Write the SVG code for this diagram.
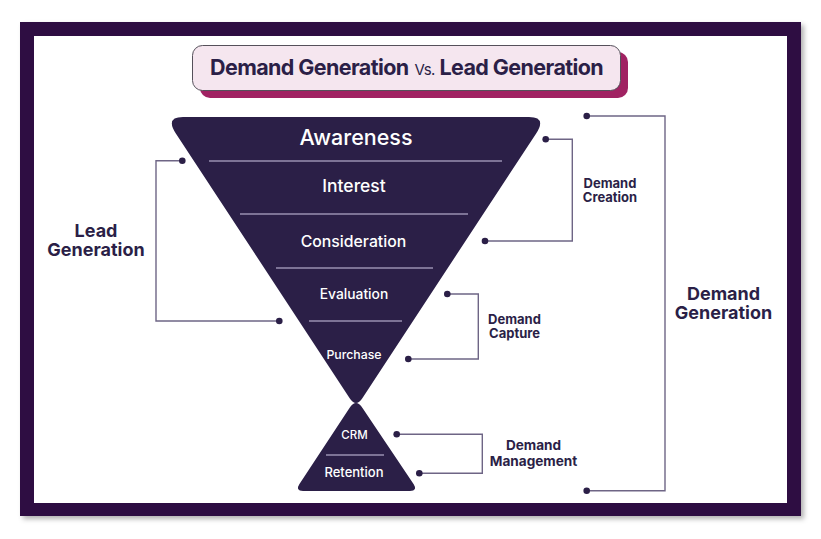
<svg xmlns="http://www.w3.org/2000/svg" width="821" height="539" viewBox="0 0 821 539">
  <defs>
    <filter id="shadow" x="-5%" y="-5%" width="115%" height="115%">
      <feDropShadow dx="3" dy="3" stdDeviation="2.5" flood-color="#000" flood-opacity="0.3"/>
    </filter>
    <style>
      .funnel { fill: #2b1f47; }
      .divider { stroke: #9a91b0; stroke-width: 1.3; fill: none; }
      .ftext { font-family: Inter, "Liberation Sans", sans-serif; fill: #ffffff; text-anchor: middle; font-weight: 500; }
      .label { font-family: Inter, "Liberation Sans", sans-serif; fill: #2b1f47; font-weight: 700; text-anchor: middle; }
      .conn { stroke: #6e6585; stroke-width: 1.4; fill: none; }
      .dot { fill: #2b1f47; }
    </style>
  </defs>
  <rect x="0" y="0" width="821" height="539" fill="#ffffff"/>
  <g id="frame">
    <rect x="20" y="22" width="781" height="494" fill="#2d0b43" filter="url(#shadow)"/>
    <rect x="34" y="36" width="753" height="467" fill="#ffffff"/>
  </g>
  <g id="title">
    <rect x="200" y="52" width="428" height="46" rx="10" fill="#a02262"/>
    <rect x="192.5" y="45.5" width="428" height="45" rx="10" fill="#f5e6ef" stroke="#55505a" stroke-width="1"/>
    <text y="75" font-family="Inter, 'Liberation Sans', sans-serif" font-weight="700" font-size="21.5" fill="#2b1f47" letter-spacing="-0.6"><tspan x="210">Demand Generation</tspan><tspan x="414.5" font-size="15" font-weight="400" letter-spacing="-0.5">Vs.</tspan><tspan x="439.5">Lead Generation</tspan></text>
  </g>
  <g id="upper-funnel">
    <path class="funnel" d="M183,117 L529,117 Q547,117 536,133.7 L362.5,397.9 Q356,408 349.5,397.9 L176,133.7 Q165,117 183,117 Z"/>
    <line class="divider" x1="209" y1="161" x2="502" y2="161"/>
    <line class="divider" x1="240" y1="214" x2="468" y2="214"/>
    <line class="divider" x1="276" y1="268" x2="433" y2="268"/>
    <line class="divider" x1="309" y1="321" x2="402" y2="321"/>
  </g>
  <g id="awareness"><text class="ftext" x="356" y="145" font-size="21.5" font-weight="400">Awareness</text></g>
  <g id="interest"><text class="ftext" x="354" y="192" font-size="17.5">Interest</text></g>
  <g id="consideration"><text class="ftext" x="353.5" y="247" font-size="15.8">Consideration</text></g>
  <g id="evaluation"><text class="ftext" x="354" y="299" font-size="13.8">Evaluation</text></g>
  <g id="purchase"><text class="ftext" x="354" y="359" font-size="12.3">Purchase</text></g>
  <g id="lower-funnel">
    <path class="funnel" d="M349.5,408.1 Q356,398 362.5,408.1 L413.7,484.3 Q418,491 410,491 L303,491 Q295,491 299.3,484.3 Z"/>
    <line class="divider" x1="326" y1="455" x2="384" y2="455"/>
  </g>
  <g id="crm"><text class="ftext" x="354.5" y="439" font-size="11.5">CRM</text></g>
  <g id="retention"><text class="ftext" x="354" y="477" font-size="13">Retention</text></g>
  <g id="connectors">
    <polyline class="conn" points="182.3,160.7 156,160.7 156,321 279.3,321"/>
    <circle class="dot" cx="182.3" cy="160.7" r="3.3"/>
    <circle class="dot" cx="279.3" cy="321" r="3.3"/>
    <polyline class="conn" points="545.7,139.3 572.3,139.3 572.3,241 485,241"/>
    <circle class="dot" cx="545.7" cy="139.3" r="3.3"/>
    <circle class="dot" cx="485" cy="241" r="3.3"/>
    <polyline class="conn" points="447.3,294 478.3,294 478.3,359 408.3,359"/>
    <circle class="dot" cx="447.3" cy="294" r="3.3"/>
    <circle class="dot" cx="408.3" cy="359" r="3.3"/>
    <polyline class="conn" points="396.7,434.3 482.3,434.3 482.3,473.3 419.3,473.3"/>
    <circle class="dot" cx="396.7" cy="434.3" r="3.3"/>
    <circle class="dot" cx="419.3" cy="473.3" r="3.3"/>
    <polyline class="conn" points="586.7,116 665,116 665,490.7 586.7,490.7"/>
    <circle class="dot" cx="586.7" cy="116" r="3.3"/>
    <circle class="dot" cx="586.7" cy="490.7" r="3.3"/>
  </g>
  <g id="lead-generation">
    <text class="label" font-size="18"><tspan x="96" y="237">Lead</tspan><tspan x="96" y="256">Generation</tspan></text>
  </g>
  <g id="demand-creation">
    <text class="label" font-size="13" font-weight="600"><tspan x="610" y="187.5">Demand</tspan><tspan x="610" y="202">Creation</tspan></text>
  </g>
  <g id="demand-capture">
    <text class="label" font-size="13" font-weight="600"><tspan x="514.5" y="323.5">Demand</tspan><tspan x="514.5" y="338">Capture</tspan></text>
  </g>
  <g id="demand-management">
    <text class="label" font-size="13.6" font-weight="600"><tspan x="533.5" y="450">Demand</tspan><tspan x="533.5" y="466">Management</tspan></text>
  </g>
  <g id="demand-generation">
    <text class="label" font-size="18"><tspan x="723.5" y="299.5">Demand</tspan><tspan x="723.5" y="319">Generation</tspan></text>
  </g>
</svg>
